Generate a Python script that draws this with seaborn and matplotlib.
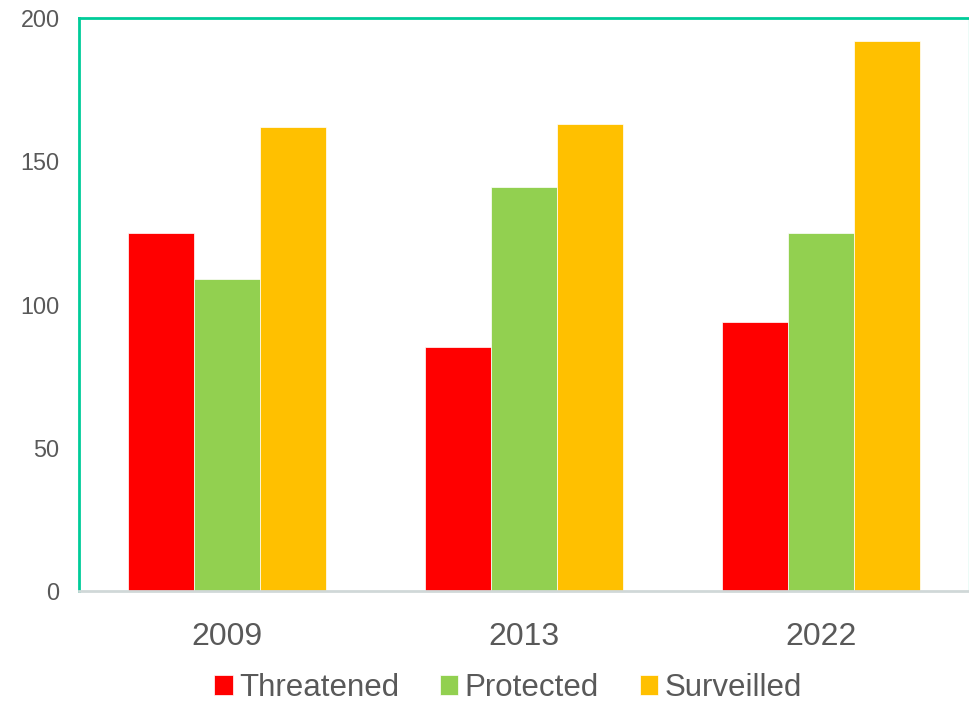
import numpy as np
import pandas as pd
import matplotlib
matplotlib.use("Agg")
import matplotlib.pyplot as plt
import seaborn as sns

years = ["2009", "2013", "2022"]
threatened = [125, 85, 94]
protected = [109, 141, 125]
surveilled = [162, 163, 192]
series = ["Threatened", "Protected", "Surveilled"]
colors = ["#FF0000", "#92D050", "#FFC000"]

df = pd.DataFrame({
    "year": years * 3,
    "value": threatened + protected + surveilled,
    "status": [s for s in series for _ in years],
})

sns.set_style("white")
plt.rcParams["font.family"] = ["Liberation Sans", "DejaVu Sans"]
text_color = "#595959"

fig = plt.figure(figsize=(9.7, 7.03), dpi=100)
ax = fig.add_axes([0.0814, 0.1593, 0.9176, 0.8151])

sns.barplot(data=df, x="year", y="value", hue="status", palette=colors,
            width=2 / 3, gap=0, saturation=1, ax=ax, edgecolor="white", linewidth=0.5)

ax.set_xlim(-0.5, 2.5)
ax.set_ylim(0, 200)
ax.set_yticks([0, 50, 100, 150, 200])
ax.set_xlabel("")
ax.set_ylabel("")
ax.tick_params(axis="y", length=0, labelsize=16.8, labelcolor=text_color, pad=14)
ax.tick_params(axis="x", length=0, labelsize=23, labelcolor=text_color, pad=22)

for side in ["top", "left"]:
    ax.spines[side].set_visible(True)
    ax.spines[side].set_color("#00CC99")
    ax.spines[side].set_linewidth(2)
ax.spines["right"].set_visible(True)
ax.spines["right"].set_color("#A8EBD8")
ax.spines["right"].set_linewidth(1)
ax.spines["bottom"].set_color("#D0D8D8")
ax.spines["bottom"].set_linewidth(2)

handles, labels = ax.get_legend_handles_labels()
ax.legend(handles, labels, loc="center", bbox_to_anchor=(0.482, -0.169),
          ncol=3, frameon=False, fontsize=22.5, labelcolor=text_color,
          handlelength=0.6, handleheight=0.6, handletextpad=0.2, columnspacing=1.3,
          borderaxespad=0, borderpad=0.1)

fig.savefig("out.png", dpi=100)
